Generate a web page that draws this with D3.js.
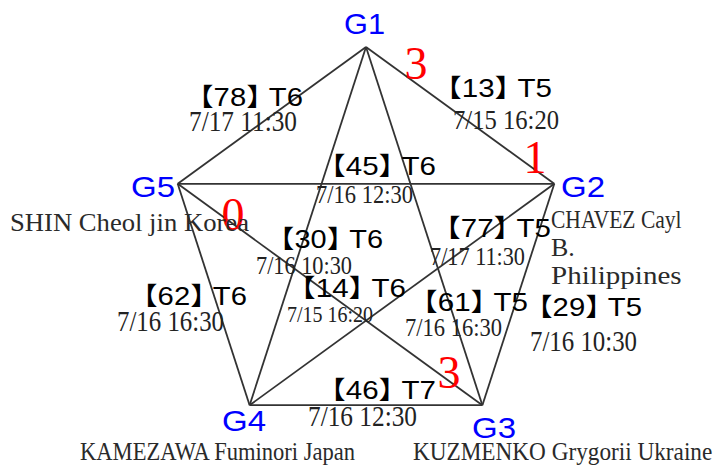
<!DOCTYPE html>
<html lang="en">

<head>
  <meta charset="UTF-8" />
  <title>Group round robin</title>
  <script src="https://cdn.jsdelivr.net/npm/d3@7"></script>
  <style>
    body {
      margin: 0;
      background: #fff;
    }

    .edge {
      stroke: #333;
      stroke-width: 1.8;
    }

    .node {
      fill: #0000ff;
      font-family: "Liberation Sans", Arial, sans-serif;
      font-size: 29px;
    }

    .match {
      fill: #000;
      font-family: "Liberation Sans", Arial, "Noto Sans CJK SC", sans-serif;
      font-size: 25px;
      font-feature-settings: "halt";
    }

    .date {
      fill: #222;
      font-family: "Liberation Serif", serif;
    }

    .score {
      fill: #ff0000;
      font-family: "Liberation Serif", serif;
      font-size: 46px;
    }

    .player {
      fill: #2a2a2a;
      font-family: "Liberation Serif", serif;
      font-size: 26px;
    }
  </style>
</head>

<body>
  <svg id="chart" width="720" height="468"></svg>

  <script>
    // groups (pentagon corners, clockwise from top)
    let groups = ["G1", "G2", "G3", "G4", "G5"];

    // matches: one edge per pair
    let matchFrom = ["G5", "G1", "G5", "G1", "G5", "G2", "G1", "G2", "G5", "G4"];
    let matchTo = ["G1", "G2", "G2", "G4", "G3", "G4", "G3", "G3", "G4", "G3"];
    let matchNo = [78, 13, 45, 30, 14, 77, 61, 29, 62, 46];
    let tables = ["T6", "T5", "T6", "T6", "T6", "T5", "T5", "T5", "T6", "T7"];
    let times = ["7/17 11:30", "7/15 16:20", "7/16 12:30", "7/16 10:30", "7/15 16:20",
      "7/17 11:30", "7/16 16:30", "7/16 10:30", "7/16 16:30", "7/16 12:30"];

    // games won, written at each end of the played matches
    let scoreGroup = ["G1", "G2", "G5", "G3"];
    let scoreValue = [3, 1, 0, 3];

    // players (lines split with |)
    let players = ["", "CHAVEZ Cayl|B.|Philippines", "KUZMENKO Grygorii Ukraine",
      "KAMEZAWA Fuminori Japan", "SHIN Cheol jin Korea"];

    // ---- layout of the annotations ----
    // [left, baseline, width]
    let nodeLabelPos = [[344, 34, 41], [561, 197, 44], [472, 438, 44], [222, 431, 44], [131, 197, 44]];
    let matchLabelPos = [[199, 106, 104], [447, 97, 105], [331, 175, 105], [280, 248, 103],
      [301, 297, 105], [446, 237, 105], [423, 311, 105], [538, 316, 104], [143, 305, 104],
      [331, 399, 105]];
    let timePos = [[189, 131, 108], [453, 129, 106], [316, 203, 97], [256, 274, 96],
      [287, 322, 86], [430, 265, 95], [405, 336, 97], [530, 351, 107], [117, 331, 107],
      [308, 426, 109]];
    let scorePos = [[416, 79], [535, 173], [233, 230], [449, 388]];
    let playerPos = [null, [551, 228], [413, 460], [80, 460], [10, 231]];
    let playerLineGap = [0, 28, 0, 0, 0];
    let cell = 12.05; // average width of one character in the player names

    let svg = d3.select("#chart");
    svg.append("rect")
      .attr("width", 720)
      .attr("height", 468)
      .attr("fill", "#fff");

    // corner positions from an angle scale
    let cx = 366, cy = 245, r = 198;
    let angle = d3.scaleLinear()
      .domain([0, groups.length])
      .range([-Math.PI / 2, 1.5 * Math.PI]);
    let corner = {};
    groups.forEach(function (g, i) {
      corner[g] = [cx + r * Math.cos(angle(i)), cy + r * Math.sin(angle(i))];
    });

    // edges
    svg.append("g")
      .selectAll("line")
      .data(matchFrom)
      .join("line")
      .attr("class", "edge")
      .attr("x1", function (d) { return corner[d][0]; })
      .attr("y1", function (d) { return corner[d][1]; })
      .attr("x2", function (d, i) { return corner[matchTo[i]][0]; })
      .attr("y2", function (d, i) { return corner[matchTo[i]][1]; });

    // match labels
    svg.append("g")
      .selectAll("text")
      .data(matchNo)
      .join("text")
      .attr("class", "match")
      .attr("x", function (d, i) { return matchLabelPos[i][0]; })
      .attr("y", function (d, i) { return matchLabelPos[i][1]; })
      .attr("textLength", function (d, i) { return matchLabelPos[i][2]; })
      .attr("lengthAdjust", "spacingAndGlyphs")
      .text(function (d, i) { return "【" + d + "】 " + tables[i]; });

    // match times
    svg.append("g")
      .selectAll("text")
      .data(times)
      .join("text")
      .attr("class", "date")
      .attr("x", function (d, i) { return timePos[i][0]; })
      .attr("y", function (d, i) { return timePos[i][1]; })
      .attr("textLength", function (d, i) { return timePos[i][2]; })
      .attr("lengthAdjust", "spacingAndGlyphs")
      .style("font-size", function (d, i) { return (timePos[i][2] / 3.75) + "px"; })
      .text(function (d) { return d; });

    // scores
    svg.append("g")
      .selectAll("text")
      .data(scoreValue)
      .join("text")
      .attr("class", "score")
      .attr("x", function (d, i) { return scorePos[i][0]; })
      .attr("y", function (d, i) { return scorePos[i][1]; })
      .attr("text-anchor", "middle")
      .text(function (d) { return d; });

    // group names
    svg.append("g")
      .selectAll("text")
      .data(groups)
      .join("text")
      .attr("class", "node")
      .attr("x", function (d, i) { return nodeLabelPos[i][0]; })
      .attr("y", function (d, i) { return nodeLabelPos[i][1]; })
      .attr("textLength", function (d, i) { return nodeLabelPos[i][2]; })
      .attr("lengthAdjust", "spacingAndGlyphs")
      .text(function (d) { return d; });

    // player names
    players.forEach(function (p, i) {
      if (!p) return;
      p.split("|").forEach(function (line, j) {
        let t = svg.append("text")
          .attr("class", "player")
          .attr("x", playerPos[i][0])
          .attr("y", playerPos[i][1] + j * playerLineGap[i])
          .text(line);
        if (line.length > 3) {
          t.attr("textLength", cell * line.length - 2)
            .attr("lengthAdjust", "spacingAndGlyphs");
        }
      });
    });
  </script>
</body>

</html>
